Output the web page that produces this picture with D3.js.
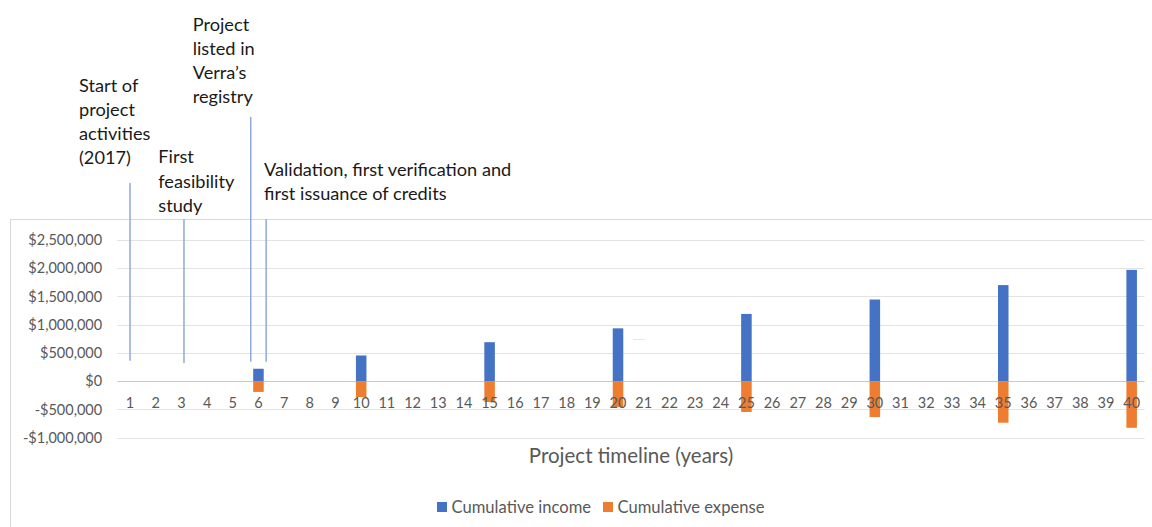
<!DOCTYPE html>
<html>
<head>
<meta charset="utf-8">
<script src="https://cdn.jsdelivr.net/npm/d3@7"></script>
<style>
  body { margin: 0; background: #fff; }
  svg { display: block; }
  .note { font-family: Lato, "Noto Sans", sans-serif; font-size: 18.2px; fill: #1a1a1a; }
  .axis text { font-family: Lato, "Noto Sans", sans-serif; font-size: 14.5px; fill: #595959; }
</style>
</head>
<body>
<div id="main"></div>
<script>
// project years on the x axis
const years = [1, 2, 3, 4, 5, 6, 7, 8, 9, 10, 11, 12, 13, 14, 15, 16, 17, 18, 19, 20,
               21, 22, 23, 24, 25, 26, 27, 28, 29, 30, 31, 32, 33, 34, 35, 36, 37, 38, 39, 40];

const barYears = [6, 10, 15, 20, 25, 30, 35, 40];
const income  = [220000, 455000, 690000, 935000, 1190000, 1445000, 1700000, 1970000];
const expense = [-190000, -280000, -370000, -455000, -545000, -635000, -735000, -825000];

const yTicks = [-1000000, -500000, 0, 500000, 1000000, 1500000, 2000000, 2500000];

const seriesNames = ["Cumulative income", "Cumulative expense"];
const seriesColors = ["#4472C4", "#ED7D31"];

// milestones: where the thin line sits (in years) and the label text
const notes = [
  { at: 1,   lines: ["Start of", "project", "activities", "(2017)"] },
  { at: 3.1, lines: ["First", "feasibility", "study"] },
  { at: 5.7, lines: ["Project", "listed in", "Verra\u2019s", "registry"] },
  { at: 6.3, lines: ["Validation, first verification and", "first issuance of credits"] }
];

const w = 1152, h = 527;
const left = 117.2, right = 1144.5;

const svg = d3.select("#main").append("svg")
  .attr("width", w)
  .attr("height", h);

// chart area frame
svg.append("rect")
  .attr("x", 10.5).attr("y", 219.5)
  .attr("width", 1160).attr("height", 330)
  .attr("fill", "none")
  .attr("stroke", "#D9D9D9");

const xScale = d3.scaleBand()
  .domain(years)
  .range([left, right])
  .paddingInner(0.59)
  .paddingOuter(0.295);

const yScale = d3.scaleLinear()
  .domain([-1000000, 2500000])
  .range([437.7, 239.9]);

const center = d => xScale(d) + xScale.bandwidth() / 2;
const yearPos = d3.scaleLinear().domain([1, 40]).range([center(1), center(40)]);

// gridlines
svg.append("g").selectAll("line")
  .data(yTicks)
  .enter().append("line")
  .attr("x1", left).attr("x2", right)
  .attr("y1", d => Math.round(yScale(d)) + 0.5)
  .attr("y2", d => Math.round(yScale(d)) + 0.5)
  .attr("stroke", d => d === 0 ? "#C8C8C8" : "#E3E3E3")
  .attr("stroke-width", 1);

// y axis
const money = d3.format(",");
const yAxis = d3.axisLeft(yScale)
  .tickValues(yTicks)
  .tickSize(0)
  .tickPadding(15)
  .tickFormat(d => (d < 0 ? "-$" : "$") + money(Math.abs(d)));

svg.append("g")
  .attr("class", "axis")
  .attr("transform", "translate(" + left + ",0)")
  .call(yAxis)
  .call(g => g.select(".domain").remove());

// bars
const rows = barYears.map((y, i) => ({ year: y, inc: income[i], exp: expense[i] }));

svg.append("g").selectAll("rect")
  .data(rows)
  .enter().append("rect")
  .attr("x", d => xScale(d.year))
  .attr("y", d => yScale(d.inc))
  .attr("width", xScale.bandwidth())
  .attr("height", d => yScale(0) - yScale(d.inc))
  .attr("fill", seriesColors[0]);

svg.append("g").selectAll("rect")
  .data(rows)
  .enter().append("rect")
  .attr("x", d => xScale(d.year))
  .attr("y", yScale(0))
  .attr("width", xScale.bandwidth())
  .attr("height", d => yScale(d.exp) - yScale(0))
  .attr("fill", seriesColors[1]);

// x axis labels next to the zero line
const xAxis = d3.axisBottom(xScale).tickSize(0).tickPadding(17);
svg.append("g")
  .attr("class", "axis")
  .attr("transform", "translate(0," + yScale(0) + ")")
  .call(xAxis)
  .call(g => g.select(".domain").remove());

// axis title
svg.append("text")
  .attr("x", 631)
  .attr("y", 463)
  .attr("text-anchor", "middle")
  .style("font-family", "Lato, 'Noto Sans', sans-serif")
  .style("font-size", "20.5px")
  .style("fill", "#595959")
  .text("Project timeline (years)");

// milestone lines
const lineTops = [183, 219, 117, 219];
const lineBottoms = [360.7, 363, 361.7, 361.7];
svg.append("g").selectAll("line")
  .data(notes)
  .enter().append("line")
  .attr("x1", d => yearPos(d.at)).attr("x2", d => yearPos(d.at))
  .attr("y1", (d, i) => lineTops[i])
  .attr("y2", (d, i) => lineBottoms[i])
  .attr("stroke", "#8EA9DB")
  .attr("stroke-width", 1.5);

// milestone labels
const noteX = [79, 158.3, 192.7, 264];
const noteY = [91.7, 163.3, 30.7, 175.7];
notes.forEach((n, i) => {
  const t = svg.append("text").attr("class", "note");
  n.lines.forEach((s, j) => {
    t.append("tspan")
      .attr("x", noteX[i])
      .attr("y", noteY[i] + j * 24.2)
      .text(s);
  });
});

// stray mark in the original
svg.append("line")
  .attr("x1", 633).attr("x2", 645)
  .attr("y1", 339.5).attr("y2", 339.5)
  .attr("stroke", "#E6E6E6");

// legend
const legend = svg.append("g")
  .attr("transform", "translate(437,502)");
const legendX = [0, 166];
seriesNames.forEach((s, i) => {
  legend.append("rect")
    .attr("x", legendX[i]).attr("y", 0)
    .attr("width", 10).attr("height", 10)
    .attr("fill", seriesColors[i]);
  legend.append("text")
    .attr("x", legendX[i] + 14.5)
    .attr("y", 10.5)
    .style("font-family", "Lato, 'Noto Sans', sans-serif")
    .style("font-size", "16.6px")
    .style("fill", "#595959")
    .text(s);
});
</script>
</body>
</html>
